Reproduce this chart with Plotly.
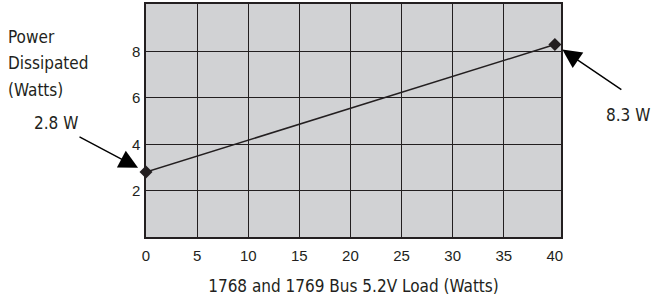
import plotly.graph_objects as go

# Data
load_watts = [0, 40]
power_watts = [2.8, 8.3]
point_labels = ["2.8 W", "8.3 W"]
x_ticks = [0, 5, 10, 15, 20, 25, 30, 35, 40]
x_grid = [5, 10, 15, 20, 25, 30, 35]
y_ticks = [2, 4, 6, 8]
x_title = "1768 and 1769 Bus 5.2V Load (Watts)"
y_title_lines = ["Power", "Dissipated", "(Watts)"]

FONT = "Liberation Sans Narrow, DejaVu Sans Condensed, Arial Narrow, sans-serif"
TICKFONT = "Liberation Sans, Arial, sans-serif"
INK = "#231f20"

fig = go.Figure()
fig.add_trace(go.Scatter(
    x=load_watts, y=power_watts, mode="lines+markers",
    line=dict(color=INK, width=1.5),
    marker=dict(symbol="diamond", size=10, color=INK),
    cliponaxis=False, showlegend=False, hoverinfo="skip",
))

# arrows (empty text) pointing to data points
arrow_offsets = [(-68, -36), (68, 46)]
text_shifts = [(-90, 49), (73, -70)]
for xv, yv, lab, (ax, ay), (xs, ys) in zip(load_watts, power_watts, point_labels, arrow_offsets, text_shifts):
    fig.add_annotation(x=xv, y=yv, xref="x", yref="y", text="", showarrow=True,
                       ax=ax, ay=ay, arrowhead=2, arrowsize=2.7, arrowwidth=1.4,
                       arrowcolor="black", standoff=9)
    fig.add_annotation(x=xv, y=yv, xref="x", yref="y", text=lab, showarrow=False,
                       xshift=xs, yshift=ys, font=dict(family=FONT, size=17, color=INK))

for i, line in enumerate(y_title_lines):
    fig.add_annotation(x=(6 - 146) / 415, y=(237 - 35 - 27 * i) / 235, xref="paper", yref="paper",
                       text=line, showarrow=False, xanchor="left", yanchor="middle",
                       align="left", font=dict(family=FONT, size=17, color=INK))

fig.update_layout(
    width=658, height=298,
    margin=dict(l=146, r=97, t=2, b=61),
    paper_bgcolor="white", plot_bgcolor="#d1d2d4",
    font=dict(family=TICKFONT, size=15, color=INK),
)
fig.update_xaxes(
    range=[0, 40.6], tickvals=x_ticks, ticks="", showgrid=False,
    minor=dict(tickvals=x_grid, showgrid=True, gridcolor=INK, gridwidth=1, ticks=""),
    showline=True, linecolor=INK, linewidth=1.5, mirror=True, zeroline=False,
    ticklabelstandoff=4,
    title=dict(text=x_title, font=dict(family=FONT, size=17, color=INK), standoff=17),
)
fig.update_yaxes(
    range=[0, 10.05], tickvals=y_ticks, ticks="", showgrid=True, gridcolor=INK, gridwidth=1,
    showline=True, linecolor=INK, linewidth=1.5, mirror=True, zeroline=False,
    ticklabelstandoff=1,
)

fig.write_html("out.html", config={"displayModeBar": False},
               post_script="document.body.style.margin='0';")
